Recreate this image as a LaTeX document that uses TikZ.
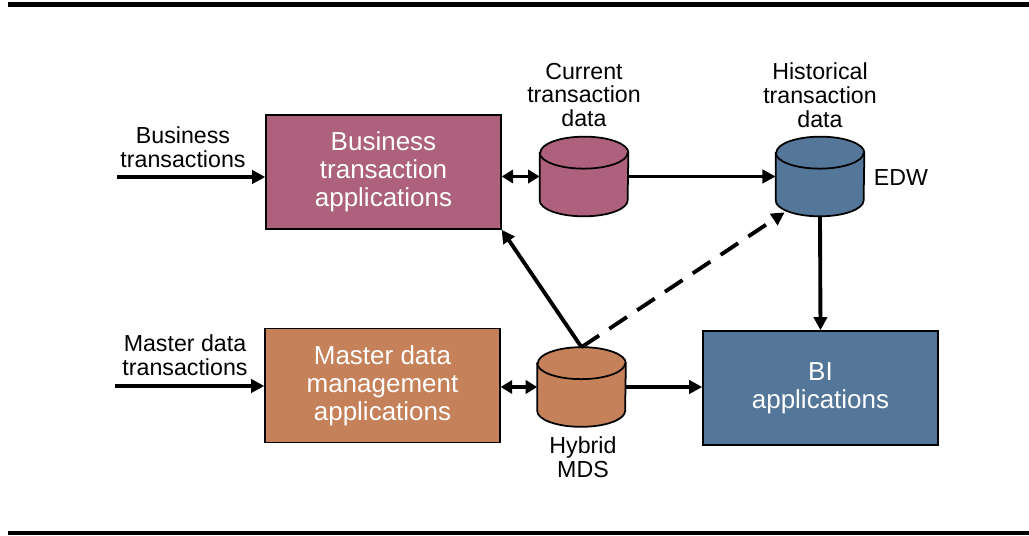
\documentclass[tikz,border=0pt]{standalone}
\usepackage{fontspec}
\setmainfont{Liberation Sans}
\usetikzlibrary{arrows.meta,calc}
\definecolor{bizmauve}{RGB}{173,97,124}
\definecolor{mdmbrown}{RGB}{196,129,90}
\definecolor{biblue}{RGB}{84,118,153}
\tikzset{
	appbox/.style={draw=black, line width=0.8pt, minimum width=4.7cm, minimum height=2.28cm, text=white, align=center, font=\fontsize{14.8}{16}\selectfont},
	store/.style={inner sep=0pt, minimum width=1.76cm, minimum height=1.58cm},
	lbl/.style={align=center, font=\fontsize{13.2}{13.6}\selectfont},
	flow/.style={line width=2.2pt, -{Triangle[length=7.5pt,width=7.5pt]}},
	dflow/.style={line width=2.2pt, {Triangle[length=6.5pt,width=7.5pt]}-{Triangle[length=6.5pt,width=7.5pt]}}
}
% drum shape round a store node: #1 node name, #2 fill colour
\def\drum#1#2{
	\draw[line width=1pt, fill=#2] ($(#1.north west)+(0,16)$) -- ($(#1.south west)+(0,-16)$)
		arc[start angle=180, end angle=360, x radius=0.88cm, y radius=0.32cm]
		-- ($(#1.north east)+(0,16)$)
		arc[start angle=0, end angle=180, x radius=0.88cm, y radius=0.32cm] -- cycle;
	\draw[line width=1pt] ($(#1.north west)+(0,16)$)
		arc[start angle=180, end angle=360, x radius=0.88cm, y radius=0.32cm];
}
\begin{document}
\begin{tikzpicture}[x=0.02cm, y=-0.02cm]
		%%%%% START %%%%%
		\useasboundingbox (0, 0) rectangle (1029, 536);
		\fill[black] (8, 2.5) rectangle (1029, 7.5);
		\fill[black] (8, 531) rectangle (1029, 535.5);
		
		\node[appbox, fill=bizmauve] (bta) at (383.5, 172) {Business\\transaction\\applications};
		\node[appbox, fill=mdmbrown] (mdm) at (382.5, 385.5) {Master data\\management\\applications};
		\node[appbox, fill=biblue] (bi) at (820.5, 388) {BI\\applications};
		
		\node[store] (cur) at (584, 176.5) {};
		\node[store] (edw) at (820, 176.5) {};
		\node[store] (hyb) at (581.5, 387) {};
		\drum{cur}{bizmauve}
		\drum{edw}{biblue}
		\drum{hyb}{mdmbrown}
		
		\node[lbl] (btlbl) at (183, 147) {Business\\transactions};
		\node[lbl] (mdlbl) at (185, 355) {Master data\\transactions};
		\node[lbl] (curlbl) at (584, 95) {Current\\transaction\\data};
		\node[lbl] (edwlbl) at (820, 95) {Historical\\transaction\\data};
		\node[lbl] (edwtag) at (901, 178) {EDW};
		\node[lbl] (hyblbl) at (583, 457) {Hybrid\\MDS};
		
		\coordinate (btin) at (117, 177);
		\coordinate (mdin) at (115, 386);
		
		\draw[flow] (btin) -- (bta.west |- btin);
		\draw[flow] (mdin) -- (mdm.west |- mdin);
		\draw[dflow] (bta.east |- cur.west) -- (cur.west);
		\draw[flow] (cur.east) -- (edw.west);
		\draw[flow] (edw.south) -- (bi.north);
		\draw[dflow] (mdm.east |- hyb.west) -- (hyb.west);
		\draw[flow] (hyb.east) -- (hyb.east -| bi.west);
		\draw[flow] (hyb.north) -- (bta.south east);
		\draw[flow, dash pattern=on 12pt off 7pt] (hyb.north) -- ([shift={(9,-4)}]edw.south west);
		%%%%% END %%%%%
	\end{tikzpicture}
\end{document}
